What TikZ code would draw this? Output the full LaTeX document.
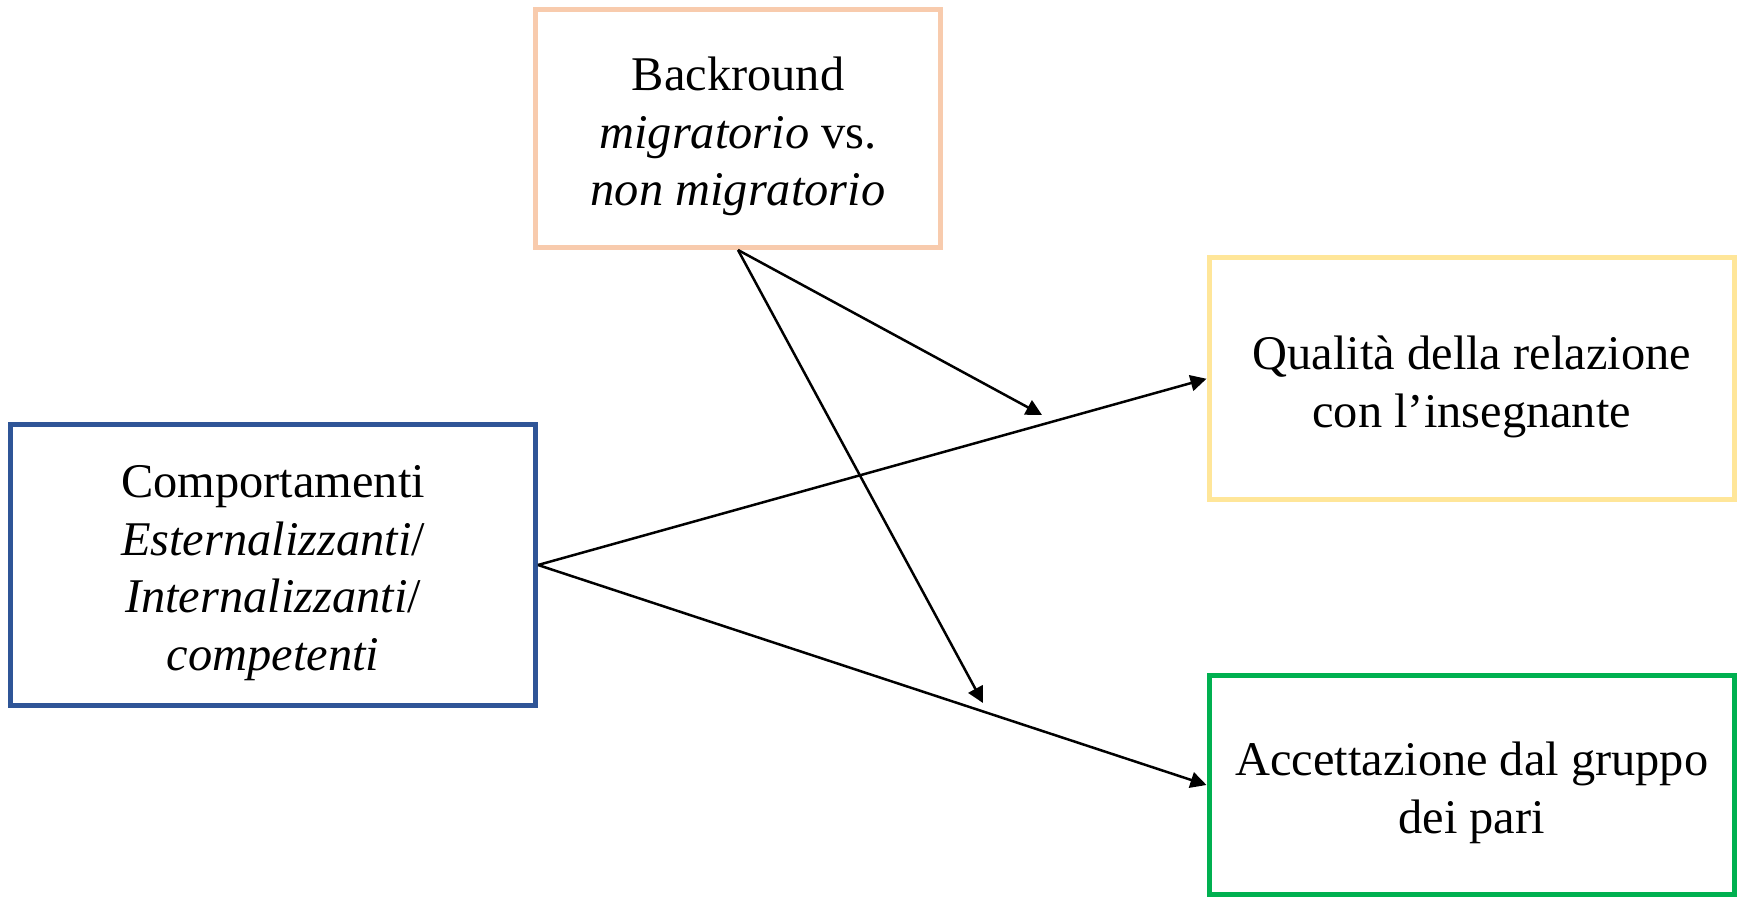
\documentclass[tikz,border=0pt]{standalone}
\usepackage{fontspec}
\setmainfont{Liberation Serif}
\usetikzlibrary{arrows.meta}
\definecolor{peach}{HTML}{F8CBAD}
\definecolor{paleyellow}{HTML}{FFE699}
\definecolor{darkblue}{HTML}{2F5597}
\definecolor{brightgreen}{HTML}{00B050}
\tikzset{
  box/.style={draw, line width=2.5pt, rectangle, inner sep=0pt},
  txt/.style={align=center, inner sep=0pt, font=\fontsize{24.2pt}{28.75pt}\selectfont},
  conn/.style={line width=1.25pt, -{Triangle[length=8pt,width=8pt]}}
}
\begin{document}
\begin{tikzpicture}[x=0.5pt,y=-0.5pt]
\useasboundingbox (0,0) rectangle (1740,898);
\node[box, draw=peach, minimum width=202.5pt, minimum height=119pt] (bg) at (738,128.5) {};
\node[box, draw=paleyellow, minimum width=262.75pt, minimum height=121pt] (qual) at (1471.75,378.75) {};
\node[box, draw=darkblue, minimum width=262.5pt, minimum height=140pt] (comp) at (273,565) {};
\node[box, draw=brightgreen, minimum width=262.75pt, minimum height=109.5pt] (acc) at (1471.75,785) {};
\node[txt] (bgt) at ([yshift=-4pt]bg.center)
  {Backround\\\textit{migratorio} vs.\\\textit{non migratorio}};
\node[txt] (qualt) at ([yshift=-4pt]qual.center)
  {Qualità della relazione\\con l’insegnante};
\node[txt] (compt) at ([yshift=-4pt]comp.center)
  {Comportamenti\\\textit{Esternalizzanti}/\\\textit{Internalizzanti}/\\\textit{competenti}};
\node[txt] (acct) at ([yshift=-4pt]acc.center)
  {Accettazione dal gruppo\\dei pari};
\coordinate (t1) at (1042,415);
\coordinate (t2) at (983,703);
\draw[conn] (comp.east) -- (qual.west);
\draw[conn] (comp.east) -- (acc.west);
\draw[conn] (bg.south) -- (t1);
\draw[conn] (bg.south) -- (t2);
\end{tikzpicture}
\end{document}
